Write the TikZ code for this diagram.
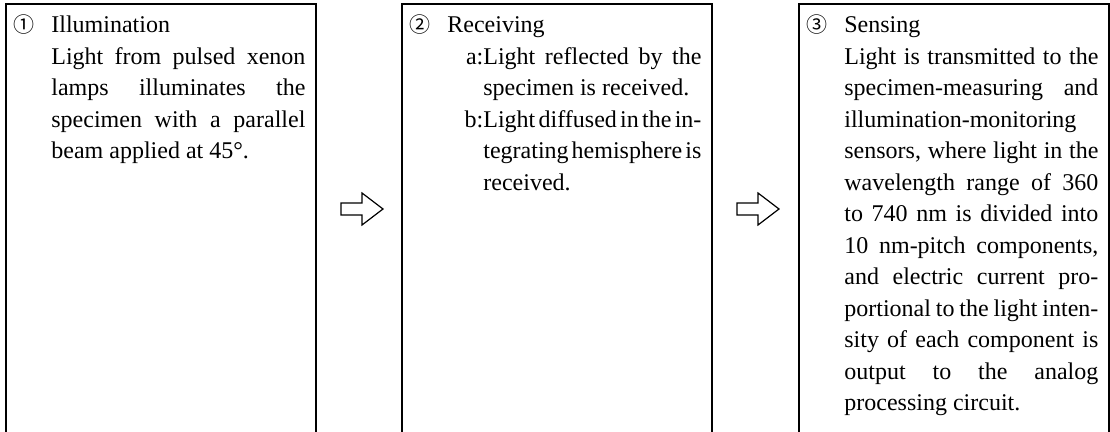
\documentclass[tikz,border=0pt]{standalone}
\usepackage{fontspec}
\setmainfont{Liberation Serif}[WordSpace={1,1,2.2}]
\newfontfamily\circfont{Noto Sans CJK JP}
\usetikzlibrary{calc}

\tolerance=9999
\hyphenpenalty=10000
\exhyphenpenalty=10000

% Stage title with its circled number hung in the margin.
\newcommand{\stagehead}[2]{\noindent\llap{\makebox[19pt][l]{\circfont\fontsize{10.5}{12}\selectfont #1}}#2\par}
% Lettered item, body indented.
\newcommand{\stageitem}[2]{{\leftskip=18pt\noindent\llap{#1}#2\par}}

\begin{document}
\begin{tikzpicture}[line join=miter,
  panel/.style={draw, line width=1pt, minimum width=155pt, minimum height=228pt,
    anchor=north west, inner sep=0pt, outer sep=0pt},
  stagetext/.style={anchor=base west, inner sep=0pt, text width=127pt,
    align=justify, font=\fontsize{12}{15.75}\selectfont},
  blockarrow/.style={draw, line width=0.6pt}]
  \useasboundingbox (0,0) rectangle (555pt,-216pt);
  % Three boxes, open at the foot of the page.
  \node[panel] (illum) at (3pt,-2pt) {};
  \node[panel] (recv)  at (201pt,-2pt) {};
  \node[panel] (sense) at (399.5pt,-2pt) {};
  % Texts.
  \node[stagetext] (illumtext) at ($(illum.north west)+(22.5pt,-14.5pt)$) {%
    \stagehead{①}{Illumination}
    Light from pulsed xenon\linebreak lamps illuminates the\linebreak
    specimen with a parallel\linebreak beam applied at 45°.};
  \node[stagetext] (recvtext) at ($(recv.north west)+(22.5pt,-14.5pt)$) {%
    \stagehead{②}{Receiving}
    \stageitem{a:}{Light reflected by the\linebreak specimen is received.}
    \stageitem{b:}{Light diffused in the in-\linebreak tegrating hemisphere is\linebreak
      received.}};
  \node[stagetext] (sensetext) at ($(sense.north west)+(22.5pt,-14.5pt)$) {%
    \stagehead{③}{Sensing}
    Light is transmitted to the\linebreak specimen-measuring \ and\linebreak
    illumination-monitoring\newline sensors, where light in the\linebreak
    wavelength range of 360\linebreak to 740 nm is divided into\linebreak
    10 nm-pitch components,\linebreak and electric current pro-\linebreak
    portional to the light inten-\linebreak sity of each component is\linebreak
    output to the analog\linebreak processing circuit.};
  % Hollow arrows between the boxes.
  \foreach \src in {illum, recv}
    \draw[blockarrow] ($(\src.north east)+(12.5pt,-99.5pt)$) -- ++(10.5pt,0)
      -- ++(0,5pt) -- ++(10.5pt,-8pt) -- ++(-10.5pt,-8pt) -- ++(0,5pt)
      -- ++(-10.5pt,0) -- cycle;
\end{tikzpicture}
\end{document}
